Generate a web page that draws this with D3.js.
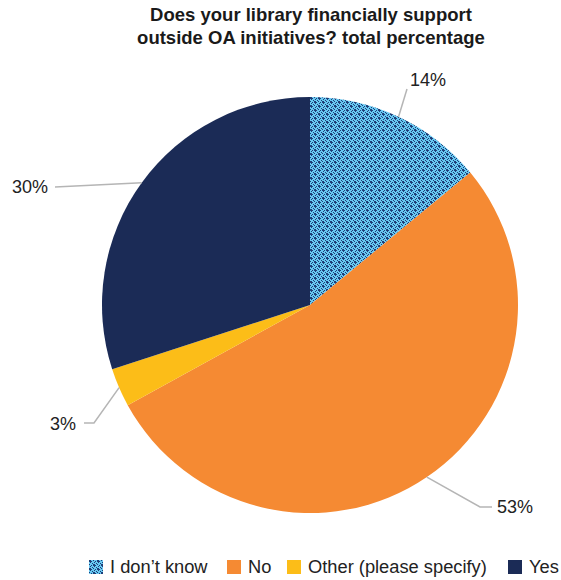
<!DOCTYPE html>
<html>
<head>
<meta charset="utf-8">
<script src="https://cdn.jsdelivr.net/npm/d3@7"></script>
<style>
  html, body { margin: 0; padding: 0; background: #fff; }
  svg { display: block; font-family: "Liberation Sans", Arial, Helvetica, sans-serif; }
</style>
</head>
<body>
<svg id="chart" width="561" height="580"></svg>
<script>
// Survey answers, in the order they run clockwise from 12 o'clock
const categories = ["I don\u2019t know", "No", "Other (please specify)", "Yes"];
const values = [14, 53, 3, 30];
const valueLabels = ["14%", "53%", "3%", "30%"];

const colors = {
  "I don\u2019t know": "url(#dots)",
  "No": "#f58a33",
  "Other (please specify)": "#fcbd18",
  "Yes": "#1b2b56"
};

// Leader-line bends and label positions, in pixels from the pie centre
const labelLayout = [
  { pts: [[97, -216]], text: [100, -225], anchor: "start" },
  { pts: [[170, 202], [182, 202]], text: [187, 202], anchor: "start" },
  { pts: [[-216, 118], [-226, 118]], text: [-234, 119], anchor: "end" },
  { pts: [[-255, -118]], text: [-262, -118], anchor: "end" }
];

const svg = d3.select("#chart");
const cx = 310, cy = 305, radius = 208;

// Checked blue pattern used for the "I don't know" slice
const defs = svg.append("defs");
const pat = defs.append("pattern")
  .attr("id", "dots")
  .attr("patternUnits", "userSpaceOnUse")
  .attr("width", 8).attr("height", 8);
pat.append("rect").attr("width", 8).attr("height", 8).attr("fill", "#68c9f2");
const darkCells = [
  [0,0,2,2],[4,4,2,2],
  [2,1,1,1],[1,2,1,1],[6,5,1,1],[5,6,1,1],
  [3,7,1,1],[7,3,1,1],[3,3,1,1],[7,7,1,1],
  [6,1,1,1],[1,6,1,1],[2,5,1,1],[5,2,1,1],
  [0,4,1,1],[4,0,1,1]
];
pat.selectAll("rect.d").data(darkCells).join("rect")
  .attr("class", "d")
  .attr("x", d => d[0]).attr("y", d => d[1])
  .attr("width", d => d[2]).attr("height", d => d[3])
  .attr("fill", "#1f3f78");

// Title
const title = svg.append("text")
  .attr("x", 311).attr("text-anchor", "middle")
  .attr("font-weight", "bold").attr("font-size", 18.5).attr("fill", "#1a1a1a");
title.append("tspan").attr("x", 311).attr("y", 21).text("Does your library financially support");
title.append("tspan").attr("x", 311).attr("y", 44).text("outside OA initiatives? total percentage");

const pie = d3.pie().sort(null).value(d => d.value);
const data = categories.map((c, i) => ({ category: c, value: values[i], label: valueLabels[i], layout: labelLayout[i] }));
const arcs = pie(data);

const arc = d3.arc().innerRadius(0).outerRadius(radius);
const edgeArc = d3.arc().innerRadius(radius).outerRadius(radius);

const g = svg.append("g").attr("transform", `translate(${cx},${cy})`);

g.selectAll("path.slice").data(arcs).join("path")
  .attr("class", "slice")
  .attr("d", arc)
  .attr("fill", d => colors[d.data.category]);

// Leader lines from the slice edge to each label
g.selectAll("polyline").data(arcs).join("polyline")
  .attr("points", d => [edgeArc.centroid(d), ...d.data.layout.pts].map(p => p.join(",")).join(" "))
  .attr("fill", "none")
  .attr("stroke", "#b5b5b5")
  .attr("stroke-width", 1.5);

g.selectAll("text.val").data(arcs).join("text")
  .attr("class", "val")
  .attr("x", d => d.data.layout.text[0])
  .attr("y", d => d.data.layout.text[1])
  .attr("dy", "0.35em")
  .attr("text-anchor", d => d.data.layout.anchor)
  .attr("font-size", 18)
  .attr("fill", "#222")
  .text(d => d.data.label);

// Legend along the bottom
const legendX = [89, 227, 287, 508];
const legend = svg.append("g");
const items = legend.selectAll("g").data(categories).join("g")
  .attr("transform", (d, i) => `translate(${legendX[i]},560)`);
items.append("rect")
  .attr("width", 14).attr("height", 14)
  .attr("fill", d => colors[d]);
items.append("text")
  .attr("x", 21).attr("y", 7).attr("dy", "0.35em")
  .attr("font-size", 18.3).attr("fill", "#222")
  .text(d => d);
</script>
</body>
</html>
